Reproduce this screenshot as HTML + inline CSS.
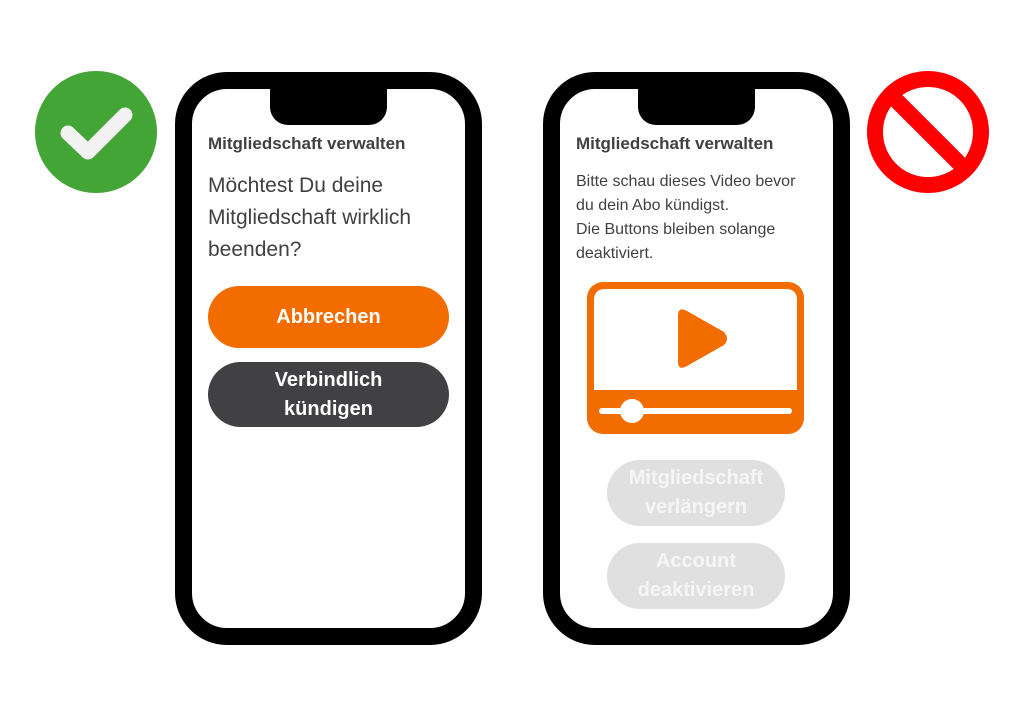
<!DOCTYPE html>
<html><head><meta charset="utf-8"><style>
body{margin:0;width:1024px;height:717px;background:#fff;position:relative;overflow:hidden;font-family:"Liberation Sans",sans-serif;color:#414042}
.ph{position:absolute;top:72px;width:273px;height:539px;border:17px solid #000;border-radius:52px;background:#fff}
.notch{position:absolute;top:-2px;width:117px;height:38px;background:#000;border-radius:0 0 18px 18px}
.t{position:absolute;font-weight:bold;font-size:17px}
.btn{position:absolute;border-radius:33px;color:#fff;font-weight:bold;font-size:20px;text-align:center;display:flex;align-items:center;justify-content:center;line-height:29px}
</style></head><body>
<svg style="position:absolute;left:0;top:0" width="1024" height="717">
<circle cx="96" cy="132" r="61" fill="#43a535"/>
<polyline points="68,133 88,152 125,115" fill="none" stroke="#f2f2f2" stroke-width="15" stroke-linecap="round" stroke-linejoin="round"/>
<circle cx="928" cy="132" r="53" fill="none" stroke="#ff0000" stroke-width="16"/>
<line x1="891" y1="95" x2="965" y2="169" stroke="#ff0000" stroke-width="16"/>
</svg>
<div class="ph" style="left:175px"><div class="notch" style="left:78px"></div></div>
<div class="ph" style="left:543px"><div class="notch" style="left:78px"></div></div>
<div class="t" style="left:208px;top:134px">Mitgliedschaft verwalten</div>
<div style="position:absolute;left:208px;top:170px;font-size:21px;line-height:32px">Möchtest Du deine<br>Mitgliedschaft wirklich<br>beenden?</div>
<div class="btn" style="left:208px;top:286px;width:241px;height:62px;background:#f36c00">Abbrechen</div>
<div class="btn" style="left:208px;top:362px;width:241px;height:65px;background:#414042">Verbindlich<br>kündigen</div>
<div class="t" style="left:576px;top:134px">Mitgliedschaft verwalten</div>
<div style="position:absolute;left:576px;top:170px;font-size:16px;line-height:24px">Bitte schau dieses Video bevor<br>du dein Abo kündigst.<br>Die Buttons bleiben solange<br>deaktiviert.</div>
<svg style="position:absolute;left:587px;top:282px" width="218" height="153">
<rect x="0" y="0" width="217" height="152" rx="16" fill="#f36c00"/>
<rect x="7" y="7" width="203" height="101" rx="10" fill="#fff"/>
<rect x="7" y="97" width="203" height="11" fill="#fff"/>
<path d="M91,34 Q91,24 100,29 L137,50 Q143,57 137,63 L100,84 Q91,89 91,80 Z" fill="#f36c00"/>
<line x1="15" y1="129" x2="202" y2="129" stroke="#fff" stroke-width="6" stroke-linecap="round"/>
<circle cx="45" cy="129" r="12" fill="#fff"/>
</svg>
<div class="btn" style="left:607px;top:460px;width:178px;height:66px;background:#e0e0e0;color:#f5f5f5">Mitgliedschaft<br>verlängern</div>
<div class="btn" style="left:607px;top:543px;width:178px;height:66px;background:#e0e0e0;color:#f5f5f5">Account<br>deaktivieren</div>
</body></html>
